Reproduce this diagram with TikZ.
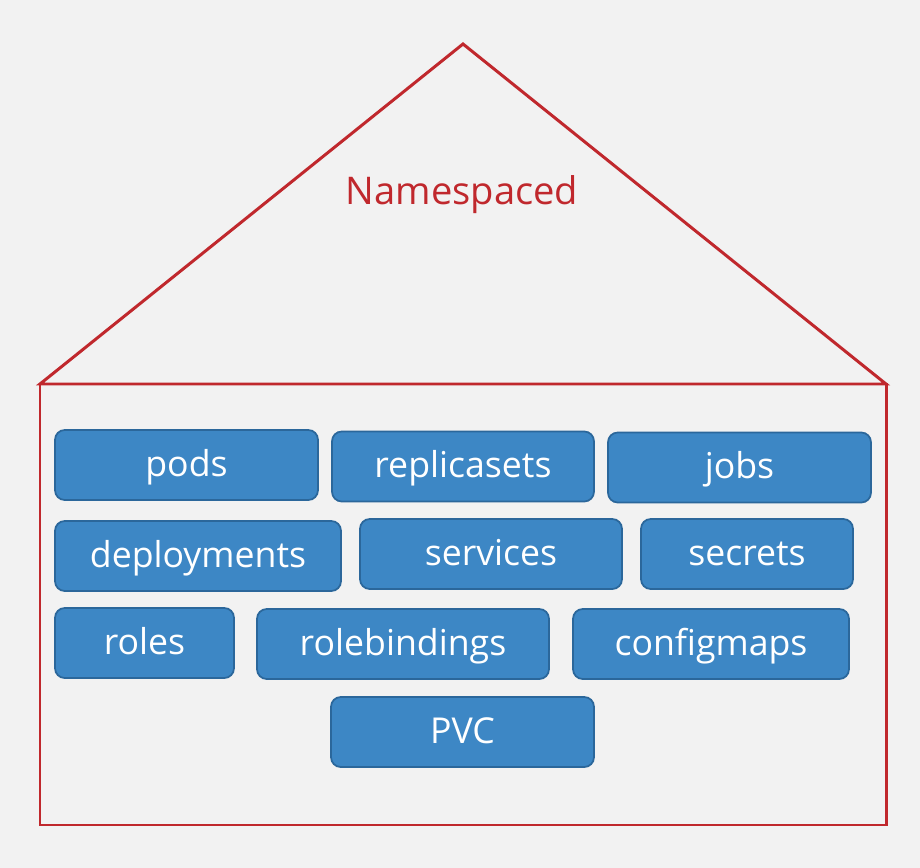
\documentclass[tikz,border=0pt]{standalone}
\usepackage{fontspec}
\setmainfont{Open Sans}
\usepackage{xcolor}
\usetikzlibrary{calc}
\definecolor{pagebg}{HTML}{F2F2F2}
\definecolor{nsred}{HTML}{C0282D}
\definecolor{resblue}{HTML}{3D87C5}
\definecolor{resedge}{HTML}{2B679B}

\begin{document}
\begin{tikzpicture}[x=0.02cm, y=-0.02cm,
  res/.style={draw=resedge, line width=1pt, fill=resblue, rounded corners=5.5pt, text=white, font=\fontsize{20.3}{22}\selectfont, minimum height=1.4cm, inner sep=0pt, text height=17pt, text depth=4pt},
  house/.style={draw=nsred, line width=1.7pt, line join=miter}]
  \fill[pagebg] (0,0) rectangle (920,868);
  \useasboundingbox (0,0) rectangle (920,868);
  \coordinate (apex) at (463,44);
  \coordinate (eaveL) at (40,384);
  \coordinate (eaveR) at (886,384);
  \coordinate (baseL) at (40,825);
  \coordinate (baseR) at (886,825);
  \draw[house] (eaveL) -- (apex) -- (eaveR) -- cycle;
  \draw[house] (eaveL) rectangle (baseR);
  \node[text=nsred, font=\fontsize{21.7}{26}\selectfont] (ns) at (462,194.5) {Namespaced};
  % row 1
  \node[res, minimum width=5.26cm] (pods) at (186.5,465) {pods};
  \node[res, minimum width=5.24cm] (replicasets) at (463,466.5) {replicasets};
  \node[res, minimum width=5.26cm] (jobs) at (739.5,467.5) {jobs};
  % row 2
  \node[res, minimum width=5.72cm] (deployments) at (198,556) {deployments};
  \node[res, minimum width=5.24cm] (services) at (491,554) {services};
  \node[res, minimum width=4.24cm] (secrets) at (747,554) {secrets};
  % row 3
  \node[res, minimum width=3.58cm] (roles) at (144.5,643) {roles};
  \node[res, minimum width=5.84cm] (rolebindings) at (403,644) {rolebindings};
  \node[res, minimum width=5.52cm] (configmaps) at (711,644) {configmaps};
  % row 4
  \node[res, minimum width=5.26cm] (pvc) at (462.5,732) {PVC};
\end{tikzpicture}
\end{document}
